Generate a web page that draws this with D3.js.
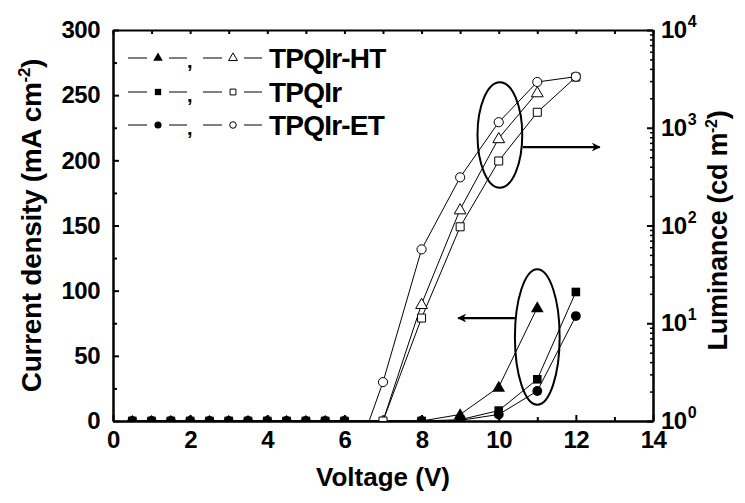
<!DOCTYPE html>
<html>
<head>
<meta charset="utf-8">
<script src="https://cdn.jsdelivr.net/npm/d3@7"></script>
<style>
  html, body { margin: 0; padding: 0; background: #fff; }
  svg text { font-family: "Liberation Sans", Arial, sans-serif; font-weight: bold; fill: #000; }
</style>
</head>
<body>
<svg id="chart" width="745" height="503"></svg>
<script>
// ---------- DATA ----------
const seriesNames = ["TPQIr-HT", "TPQIr", "TPQIr-ET"];
const currentVoltage = [0.5, 1, 1.5, 2, 2.5, 3, 3.5, 4, 4.5, 5, 5.5, 6, 8, 9, 10, 11, 12];
const currentHT  = [0, 0, 0, 0, 0, 0, 0, 0, 0, 0, 0, 0, 0, 5, 26, 87];
const currentIr  = [0, 0, 0, 0, 0, 0, 0, 0, 0, 0, 0, 0, 0, 1, 8, 32, 99];
const currentET  = [0, 0, 0, 0, 0, 0, 0, 0, 0, 0, 0, 0, 0, 0.5, 5, 23, 80.5];
const lumVoltageHT = [7, 8, 9, 10, 11];
const lumHT = [1.0, 15.7, 146, 780, 2300];
const lumVoltageIr = [7, 8, 9, 10, 11, 12];
const lumIr = [1.0, 11.3, 97, 457, 1440, 3300];
const lumVoltageET = [6.5, 7, 8, 9, 10, 11, 12];
const lumET = [0.7, 2.5, 57, 311, 1140, 2940, 3330];
const xTickLabels = [0, 2, 4, 6, 8, 10, 12, 14];
const yLeftTickLabels = [0, 50, 100, 150, 200, 250, 300];
const yRightExponents = [0, 1, 2, 3, 4];

// ---------- LAYOUT ----------
const svg = d3.select("#chart");
const L = 113, R = 653, T = 30, B = 421;
const x = d3.scaleLinear().domain([0, 14]).range([L, R]);
const yL = d3.scaleLinear().domain([0, 300]).range([B, T]);
const yR = d3.scaleLog().domain([1, 10000]).range([B, T]);

svg.append("defs").append("clipPath").attr("id", "plotclip")
  .append("rect").attr("x", L).attr("y", T).attr("width", R - L).attr("height", B - T);

const tickFont = "24px";

function styleAxis(g) {
  g.selectAll(".domain").attr("stroke", "#000").attr("stroke-width", 2);
  g.selectAll(".tick line").attr("stroke", "#000").attr("stroke-width", 2);
  g.selectAll(".tick text").attr("font-size", tickFont).attr("font-family", null).attr("fill", "#000")
    .attr("letter-spacing", "-0.5px");
}

// bottom axis
const gB = svg.append("g").attr("transform", `translate(0,${B})`)
  .call(d3.axisBottom(x).tickValues(xTickLabels).tickSize(-6).tickSizeOuter(0).tickPadding(10).tickFormat(d3.format("d")));
styleAxis(gB);
const gBm = svg.append("g").attr("transform", `translate(0,${B})`)
  .call(d3.axisBottom(x).tickValues(d3.range(1, 14, 2)).tickSize(-4).tickSizeOuter(0).tickFormat(""));
styleAxis(gBm);
// top axis
const gT = svg.append("g").attr("transform", `translate(0,${T})`)
  .call(d3.axisTop(x).tickValues(d3.range(0, 15, 1)).tickSize(-4).tickSizeOuter(0).tickFormat(""));
styleAxis(gT);
// left axis
const gL = svg.append("g").attr("transform", `translate(${L},0)`)
  .call(d3.axisLeft(yL).tickValues(yLeftTickLabels).tickSize(-6).tickSizeOuter(0).tickPadding(13).tickFormat(d3.format("d")));
styleAxis(gL);
const gLm = svg.append("g").attr("transform", `translate(${L},0)`)
  .call(d3.axisLeft(yL).tickValues(d3.range(25, 300, 50)).tickSize(-4).tickSizeOuter(0).tickFormat(""));
styleAxis(gLm);
// right axis
const decades = yRightExponents.map(e => Math.pow(10, e));
const gR = svg.append("g").attr("transform", `translate(${R},0)`)
  .call(d3.axisRight(yR).tickValues(decades).tickSize(-6).tickSizeOuter(0).tickFormat(""));
styleAxis(gR);
const minors = [];
for (let e = 0; e < 4; e++) for (let m = 2; m <= 9; m++) minors.push(m * Math.pow(10, e));
const gRm = svg.append("g").attr("transform", `translate(${R},0)`)
  .call(d3.axisRight(yR).tickValues(minors).tickSize(-3).tickSizeOuter(0).tickFormat(""));
styleAxis(gRm);
gRm.selectAll(".tick line").attr("stroke-width", 1.5);

// right tick labels with superscripts
yRightExponents.forEach(e => {
  const t = svg.append("text").attr("x", R + 8).attr("y", yR(Math.pow(10, e)) + 8)
    .attr("font-size", tickFont).attr("letter-spacing", "-0.5px");
  t.append("tspan").text("10");
  t.append("tspan").attr("font-size", "16px").attr("dx", 1).attr("dy", -11).text(String(e));
});

// axis titles
svg.append("text").attr("x", 383).attr("y", 486).attr("text-anchor", "middle")
  .attr("font-size", "26px").text("Voltage (V)");
const tl = svg.append("text").attr("transform", `translate(41,${(T + B) / 2}) rotate(-90)`)
  .attr("text-anchor", "middle").attr("font-size", "28px").attr("letter-spacing", "-0.3px");
tl.append("tspan").text("Current density (mA cm");
tl.append("tspan").attr("font-size", "17px").attr("dy", -11).text("-2");
tl.append("tspan").attr("dy", 11).text(")");
const tr = svg.append("text").attr("transform", `translate(727,${(T + B) / 2 + 5}) rotate(-90)`)
  .attr("text-anchor", "middle").attr("font-size", "27px").attr("letter-spacing", "-0.3px");
tr.append("tspan").text("Luminance (cd m");
tr.append("tspan").attr("font-size", "16px").attr("dy", -10).text("-2");
tr.append("tspan").attr("dy", 10).text(")");

// ---------- DATA MARKS ----------
const plot = svg.append("g").attr("clip-path", "url(#plotclip)");
const line = (xs, ys, yScale) => d3.line().x((d, i) => x(xs[i])).y((d, i) => yScale(d))(ys);
const shapes = [d3.symbolTriangle, d3.symbolSquare, d3.symbolCircle];
const sizes = [60, 64, 66];

const curSets = [currentHT, currentIr, currentET];
const lumSets = [[lumVoltageHT, lumHT], [lumVoltageIr, lumIr], [lumVoltageET, lumET]];

curSets.forEach(ys => {
  plot.append("path").attr("d", line(currentVoltage, ys, yL)).attr("fill", "none").attr("stroke", "#000").attr("stroke-width", 1);
});
lumSets.forEach(([xs, ys]) => {
  plot.append("path").attr("d", line(xs, ys, yR)).attr("fill", "none").attr("stroke", "#000").attr("stroke-width", 1);
});
lumSets.forEach(([xs, ys], si) => {
  ys.forEach((v, i) => {
    plot.append("path").attr("d", d3.symbol().type(shapes[si]).size(sizes[si])())
      .attr("transform", `translate(${x(xs[i])},${yR(v) + (si === 0 ? 1 : 0)})`)
      .attr("fill", "#fff").attr("stroke", "#000").attr("stroke-width", 1);
  });
});
curSets.forEach((ys, si) => {
  ys.forEach((v, i) => {
    plot.append("path").attr("d", d3.symbol().type(shapes[si]).size(sizes[si] + 10)())
      .attr("transform", `translate(${x(currentVoltage[i])},${yL(v) + (si === 0 ? 1 : 0)})`)
      .attr("fill", "#000").attr("stroke", "none");
  });
});

// ---------- ANNOTATIONS (ellipses + arrows) ----------
const ann = svg.append("g");
svg.select("defs").append("marker").attr("id", "arrowhead").attr("viewBox", "0 0 10 10")
  .attr("refX", 9).attr("refY", 5).attr("markerWidth", 6).attr("markerHeight", 4)
  .attr("orient", "auto-start-reverse").attr("markerUnits", "strokeWidth")
  .append("path").attr("d", "M0,0 L10,5 L0,10 L3,5 z").attr("fill", "#000");

// lower (current density) ellipse
const e1c = [11, 64.5];
ann.append("ellipse").attr("cx", x(e1c[0])).attr("cy", yL(e1c[1]))
  .attr("rx", x(0.58) - x(0)).attr("ry", yL(0) - yL(52))
  .attr("fill", "none").attr("stroke", "#000").attr("stroke-width", 2);
ann.append("line").attr("x1", x(10.42)).attr("x2", x(8.95)).attr("y1", yL(79)).attr("y2", yL(79))
  .attr("stroke", "#000").attr("stroke-width", 2.2).attr("marker-end", "url(#arrowhead)");
// upper (luminance) ellipse
const e2c = [10.03, 843];
ann.append("ellipse").attr("cx", x(e2c[0])).attr("cy", yR(e2c[1]))
  .attr("rx", x(0.58) - x(0)).attr("ry", yR(1) - yR(Math.pow(10, 0.54)))
  .attr("fill", "none").attr("stroke", "#000").attr("stroke-width", 2);
ann.append("line").attr("x1", x(10.63)).attr("x2", x(12.62)).attr("y1", yR(635)).attr("y2", yR(635))
  .attr("stroke", "#000").attr("stroke-width", 2.2).attr("marker-end", "url(#arrowhead)");

// ---------- LEGEND ----------
const legY = [58, 92, 125];
const leg = svg.append("g");
seriesNames.forEach((name, si) => {
  const y = legY[si];
  [[128, 147], [169, 187], [203, 222], [244, 262]].forEach(([a, b]) => {
    leg.append("line").attr("x1", a).attr("x2", b).attr("y1", y).attr("y2", y).attr("stroke", "#000").attr("stroke-width", 1);
  });
  leg.append("path").attr("d", d3.symbol().type(shapes[si]).size(40)())
    .attr("transform", `translate(158,${y})`).attr("fill", "#000");
  leg.append("path").attr("d", d3.symbol().type(shapes[si]).size(34)())
    .attr("transform", `translate(233,${y})`).attr("fill", "#fff").attr("stroke", "#000").attr("stroke-width", 1);
  leg.append("text").attr("x", 187).attr("y", y + 10).attr("font-size", "20px").text(",");
  leg.append("text").attr("x", 269).attr("y", y + 10).attr("font-size", "28px").attr("letter-spacing", "-0.8px").text(name);
});
</script>
</body>
</html>
